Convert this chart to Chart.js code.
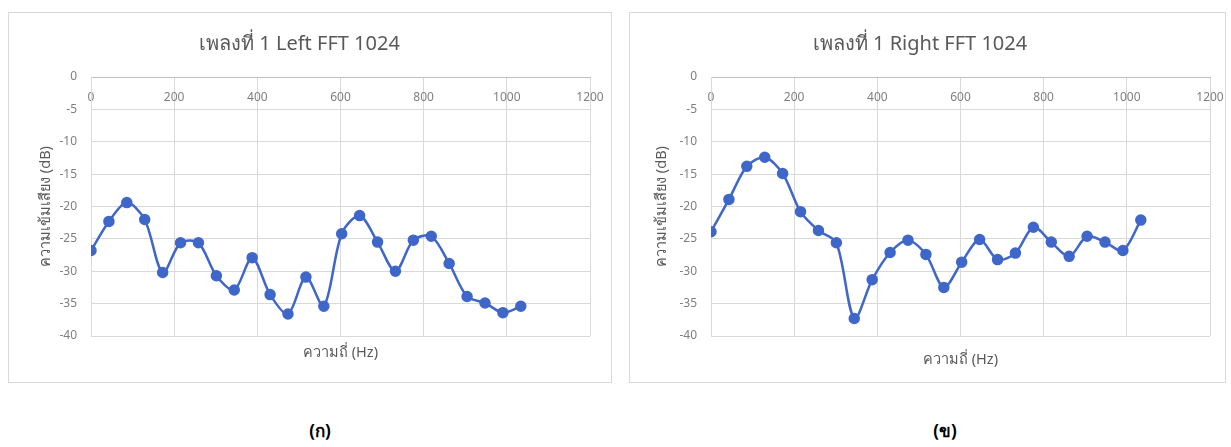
<!DOCTYPE html>
<html>
<head>
<meta charset="utf-8">
<script src="https://cdn.jsdelivr.net/npm/chart.js@4.4.1/dist/chart.umd.min.js"></script>
<style>
  body { margin: 0; background: #fff; width: 1231px; height: 447px; position: relative; overflow: hidden; font-family: "Noto Sans", sans-serif; }
  .box { position: absolute; top: 12px; height: 371px; border: 1px solid #d9d9d9; box-sizing: border-box; background: #fff; }
  #boxL { left: 8px; width: 604px; }
  #boxR { left: 629px; width: 597px; }
  .cap { position: absolute; top: 417px; font-size: 17px; font-weight: bold; color: #000; transform: translateX(-50%); }
</style>
</head>
<body>
<div class="box" id="boxL"><canvas id="chartL"></canvas></div>
<div class="box" id="boxR"><canvas id="chartR"></canvas></div>
<div class="cap" style="left:320px">(ก)</div>
<div class="cap" style="left:945px">(ข)</div>
<script>
const freqHz = [0, 43.1, 86.1, 129.2, 172.3, 215.3, 258.4, 301.5, 344.5, 387.6, 430.7, 473.7,
  516.8, 559.9, 602.9, 646.0, 689.1, 732.1, 775.2, 818.3, 861.3, 904.4, 947.5, 990.5, 1033.6];
const leftDb = [-26.8, -22.3, -19.4, -22.0, -30.2, -25.6, -25.6, -30.7, -32.9, -27.9, -33.6, -36.6,
  -30.9, -35.4, -24.2, -21.4, -25.5, -30.0, -25.2, -24.6, -28.8, -33.9, -34.9, -36.4, -35.4];
const rightDb = [-23.9, -18.9, -13.8, -12.4, -14.9, -20.8, -23.7, -25.6, -37.3, -31.3, -27.1, -25.2,
  -27.4, -32.5, -28.6, -25.1, -28.2, -27.2, -23.2, -25.5, -27.7, -24.6, -25.5, -26.8, -22.1];
const titles = ['เพลงที่ 1 Left FFT 1024', 'เพลงที่ 1 Right FFT 1024'];
const xTitle = 'ความถี่ (Hz)';
const yTitle = 'ความเข้มเสียง (dB)';

const font = '"Noto Sans", "DejaVu Sans", sans-serif';
const grey = '#7f7f7f';

function makeChart(id, title, values, w, h, yAxisW, yTitlePad, xTitleBottom) {
  const canvas = document.getElementById(id);
  canvas.style.width = w + 'px';
  canvas.style.height = h + 'px';
  canvas.width = w;
  canvas.height = h;
  return new Chart(canvas, {
    type: 'line',
    data: {
      datasets: [{
        data: freqHz.map((f, i) => ({ x: f, y: values[i] })),
        borderColor: '#3f66c9',
        backgroundColor: '#3f66c9',
        borderWidth: 2.5,
        pointRadius: 4.5,
        tension: 0.3,
        xAxisID: 'x'
      }]
    },
    options: {
      responsive: false,
      animation: false,
      // plot area is 499px wide in both charts
      layout: { padding: { left: 0, top: 0, right: w - yAxisW - 499, bottom: 0 } },
      plugins: {
        legend: { display: false },
        tooltip: { enabled: false },
        title: {
          display: true,
          text: title,
          color: '#595959',
          font: { family: font, size: 20, weight: 'normal' },
          padding: { top: 19, bottom: 21 }
        }
      },
      scales: {
        x: {
          type: 'linear',
          position: { y: 0 },
          min: 0, max: 1200,
          ticks: { stepSize: 200, color: grey, font: { family: font, size: 12 }, padding: 13, callback: v => String(v) },
          grid: { color: '#d9d9d9', drawTicks: false },
          border: { color: '#bfbfbf' },
          afterFit: s => { s.paddingLeft = 0; s.paddingRight = 0; }
        },
        x2: {
          type: 'linear',
          position: 'bottom',
          min: 0, max: 1,
          ticks: { display: false },
          grid: { display: false, drawTicks: false },
          border: { display: false },
          title: { display: true, text: xTitle, color: '#595959', font: { family: font, size: 14.5 }, padding: { top: 0, bottom: xTitleBottom } },
          afterFit: s => { s.height = 46; s.paddingLeft = 0; s.paddingRight = 0; }
        },
        y: {
          min: -40, max: 0,
          ticks: { stepSize: 5, color: grey, font: { family: font, size: 12 }, padding: 14 },
          grid: { color: '#d9d9d9', drawTicks: false },
          border: { color: '#d9d9d9' },
          title: { display: true, text: yTitle, color: '#595959', font: { family: font, size: 14.5 }, padding: { top: yTitlePad, bottom: 0 } },
          afterFit: s => { s.width = yAxisW; }
        }
      }
    }
  });
}

makeChart('chartL', titles[0], leftDb, 602, 369, 82, 28, 20);
makeChart('chartR', titles[1], rightDb, 595, 369, 81, 23, 13);
</script>
</body>
</html>
